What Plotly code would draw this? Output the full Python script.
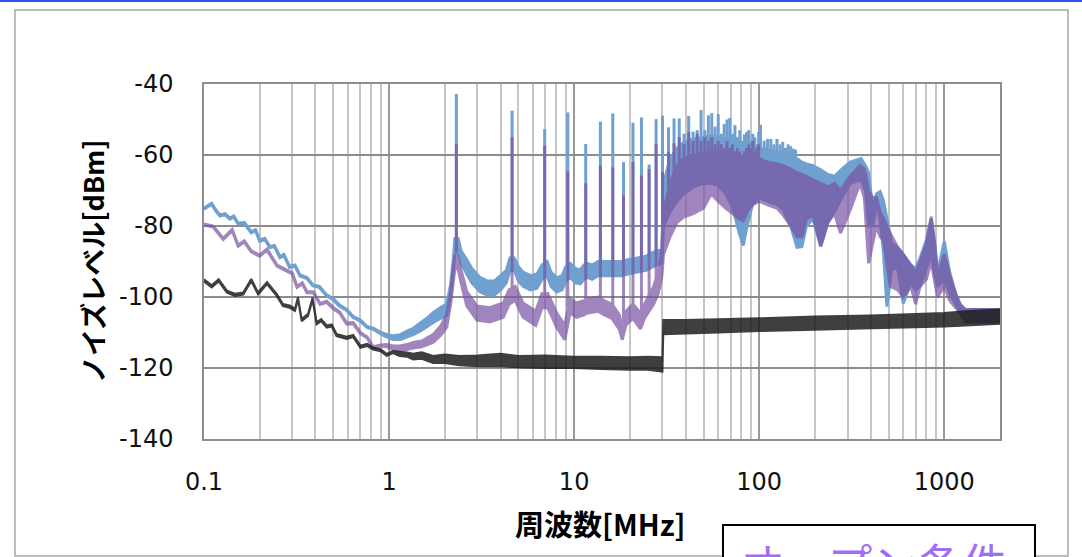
import plotly.graph_objects as go

# ---------------- data ----------------
# Blue trace: band envelope (frequency MHz, lower level dBm, upper level dBm)
blue_f = [0.100, 0.105, 0.110, 0.116, 0.122, 0.130, 0.138, 0.145, 0.153, 0.165, 0.180, 0.190, 0.200,
          0.213, 0.227, 0.240, 0.257, 0.270, 0.290, 0.310, 0.330, 0.360, 0.388, 0.420, 0.460, 0.500,
          0.540, 0.590, 0.640, 0.700, 0.760, 0.820, 0.890, 0.950, 1.050, 1.150, 1.250, 1.350, 1.470,
          1.600, 1.730, 1.900, 2.050, 2.150, 2.220, 2.270, 2.360, 2.450, 2.630, 2.800, 3.100, 3.400,
          3.700, 4.000, 4.300, 4.500, 4.750, 5.000, 5.300, 5.800, 6.300, 6.700, 7.150, 7.500, 8.050,
          8.600, 9.000, 9.500, 10.20, 10.80, 11.30, 11.80, 12.50, 13.50, 14.50, 15.50, 17.00, 18.00,
          19.50, 22.00, 24.50, 26.50, 28.00, 29.80, 30.40, 33.0, 36.0, 39.0, 44.0, 50.0, 55.0, 60.0,
          66.0, 72.0, 78.0, 82.0, 86.0, 92.0, 100.0, 110.0, 125.0, 135.0, 148.0, 160.0, 170.0, 180.0,
          195.0, 215.0, 235.0, 255.0, 280.0, 310.0, 355.0, 375.0, 390.0, 410.0, 430.0, 450.0, 470.0,
          490.0, 520.0, 560.0, 600.0, 660.0, 700.0, 740.0, 800.0, 850.0, 890.0, 920.0, 1000.0, 1070.0,
          1150.0, 1220.0, 1300.0, 2000.0]
blue_lo = [-75.3, -74.5, -74.0, -75.8, -77.2, -76.8, -78.1, -77.5, -79.5, -79.3, -81.9, -81.3, -84.3,
           -83.8, -86.1, -85.8, -88.9, -88.3, -91.7, -91.3, -94.1, -94.8, -96.9, -97.3, -99.7, -100.8,
           -102.6, -103.8, -105.8, -106.8, -108.6, -109.1, -110.2, -111.0, -112.0, -112.0, -111.2, -110.6, -109.6,
           -108.4, -107.2, -106.0, -105.2, -100.0, -93.0, -87.0, -87.0, -90.5, -93.5, -96.0, -98.5, -99.5,
           -99.5, -98.0, -96.0, -92.5, -92.5, -95.5, -97.0, -98.0, -97.5, -95.0, -94.0, -97.0, -98.6,
           -98.0, -95.5, -94.5, -96.0, -96.3, -95.0, -94.5, -95.0, -94.0, -94.0, -94.0, -94.0, -94.0,
           -93.5, -93.0, -92.5, -91.5, -91.0, -90.5, -80.0, -76.0, -73.0, -71.0, -69.0, -68.0, -68.0, -68.5,
           -71.0, -75.0, -82.0, -85.5, -80.0, -74.0, -72.0, -73.0, -74.0, -75.5, -80.0, -86.0, -85.8, -80.0,
           -78.0, -85.8, -79.0, -76.0, -72.0, -68.0, -67.0, -70.0, -80.0, -80.0, -74.0, -78.0, -88.0,
           -102.7, -92.0, -92.0, -101.8, -96.0, -98.0, -97.0, -92.0, -88.0, -94.0, -97.0, -95.0, -99.0,
           -102.0, -104.5, -107.0, -107.0]
blue_hi = [-75.0, -74.2, -73.6, -75.5, -76.9, -76.5, -77.8, -77.2, -79.2, -79.0, -81.6, -81.0, -84.0,
           -83.5, -85.8, -85.5, -88.6, -88.0, -91.4, -91.0, -93.8, -94.5, -96.6, -97.0, -99.4, -100.5,
           -102.3, -103.5, -105.5, -106.5, -108.3, -108.8, -109.8, -110.4, -111.0, -110.6, -109.6, -108.8, -107.4,
           -106.0, -104.4, -103.0, -102.0, -96.5, -89.5, -83.5, -83.5, -87.0, -89.5, -92.0, -94.5, -95.5,
           -95.5, -94.0, -92.5, -89.0, -89.0, -91.5, -93.0, -94.0, -93.5, -91.0, -90.0, -93.0, -94.6,
           -94.0, -91.5, -90.5, -92.0, -92.3, -91.0, -90.5, -91.0, -90.0, -90.0, -90.0, -90.0, -90.0,
           -89.5, -89.0, -88.5, -87.5, -87.0, -86.5, -68.0, -61.0, -58.0, -56.5, -55.5, -55.0, -54.5, -55.0,
           -55.5, -56.5, -58.0, -59.0, -58.5, -58.0, -58.0, -58.5, -59.0, -59.5, -60.5, -61.0, -62.0, -62.5,
           -63.0, -64.2, -65.5, -66.0, -64.0, -62.0, -61.0, -63.0, -65.0, -75.0, -71.0, -70.3, -73.0,
           -78.0, -85.0, -86.0, -88.0, -91.0, -92.0, -89.0, -84.0, -78.0, -85.0, -93.0, -84.4, -93.0,
           -99.0, -102.5, -103.5, -103.5]

# Blue harmonic spikes (frequency MHz, peak dBm, foot dBm)
blue_spike_f = [2.31, 4.62, 6.93, 9.24, 11.55, 13.86, 16.17, 18.48, 20.79, 23.1, 25.41, 27.72, 30.03,
                32.34, 34.65, 36.96, 39.27, 41.58, 43.89, 46.2, 48.51, 50.82, 53.13, 55.44, 57.75, 60.06,
                62.37, 64.68, 66.99, 69.3, 71.61, 73.92, 76.23, 78.54, 80.85, 83.16, 85.47, 87.78, 90.09,
                92.4, 94.71, 97.02, 99.33, 101.6, 106.3, 110.9, 115.5, 120.1, 124.7, 129.4, 134.0, 138.6,
                143.2, 147.8, 152.5, 157.1]
blue_spike_top = [-42.8, -47.5, -52.7, -48.0, -56.9, -50.6, -48.3, -62.0, -50.9, -49.4, -62.7, -49.9, -48.9,
                  -52.2, -49.7, -49.7, -54.0, -49.0, -53.4, -53.0, -47.3, -53.0, -48.8, -48.2, -52.0, -48.5,
                  -54.0, -51.3, -50.0, -49.6, -54.0, -51.6, -55.0, -53.0, -56.0, -54.2, -53.5, -53.0, -56.0,
                  -54.0, -55.0, -57.0, -53.5, -51.5, -56.0, -55.5, -55.5, -57.0, -55.5, -57.0, -56.3, -58.0,
                  -57.0, -57.5, -58.2, -58.5]
blue_spike_foot = [-86, -91, -93, -93, -93, -92, -92, -92, -91, -91, -90, -89, -88,
                   -65, -65, -65, -65, -65, -65, -65, -65, -65, -65, -65, -65, -65,
                   -65, -65, -65, -65, -65, -65, -65, -65, -65, -65, -65, -65, -65,
                   -65, -65, -65, -65, -65, -65, -65, -65, -65, -65, -65, -65, -65,
                   -65, -65, -65, -65]

# Purple trace: band envelope
purple_f = [0.100, 0.112, 0.127, 0.142, 0.153, 0.165, 0.180, 0.200, 0.219, 0.248, 0.280, 0.300, 0.318,
            0.340, 0.360, 0.390, 0.424, 0.460, 0.500, 0.540, 0.590, 0.640, 0.700, 0.760, 0.820, 0.900,
            0.970, 1.050, 1.140, 1.250, 1.350, 1.500, 1.730, 1.900, 2.050, 2.150, 2.220, 2.270, 2.360,
            2.450, 2.630, 2.980, 3.500, 4.140, 4.450, 4.800, 5.300, 6.200, 6.700, 7.200, 8.050, 8.900,
            9.500, 10.30, 11.30, 11.80, 13.50, 14.50, 16.00, 17.50, 18.20, 19.00, 20.80, 22.80, 24.00,
            26.90, 28.50, 29.80, 30.40, 33.0, 36.0, 39.0, 44.0, 50.0, 55.0, 60.0, 66.0, 72.0, 78.0, 82.0,
            86.0, 92.0, 100.0, 110.0, 125.0, 135.0, 148.0, 160.0, 170.0, 180.0, 195.0, 215.0, 235.0, 255.0,
            275.0, 310.0, 350.0, 370.0, 390.0, 410.0, 430.0, 450.0, 470.0, 510.0, 560.0, 600.0, 660.0,
            700.0, 740.0, 800.0, 850.0, 890.0, 920.0, 1000.0, 1070.0, 1150.0, 1220.0, 1300.0, 2000.0]
purple_lo = [-79.7, -80.3, -83.8, -81.3, -85.7, -84.5, -87.3, -88.5, -86.8, -91.3, -92.7, -93.5, -97.3,
             -96.3, -98.8, -98.8, -102.1, -101.5, -103.3, -104.5, -107.6, -107.5, -110.3, -111.5, -114.3, -113.8,
             -114.0, -114.8, -115.0, -114.8, -114.4, -114.0, -112.8, -110.8, -108.5, -102.0, -96.0, -92.0, -92.0,
             -96.0, -102.5, -106.5, -107.0, -105.7, -102.0, -101.0, -105.7, -108.0, -103.0, -103.0, -108.5, -112.0,
             -104.5, -105.7, -105.0, -104.5, -104.0, -105.0, -106.0, -109.0, -112.0, -108.0, -106.0, -109.0, -106.0,
             -102.0, -99.0, -94.0, -88.0, -83.0, -79.0, -77.5, -76.5, -75.0, -71.0, -73.0, -75.0, -76.5, -78.0, -78.5,
             -76.0, -74.0, -73.0, -74.0, -75.0, -77.0, -80.0, -83.0, -83.0, -78.0, -77.0, -85.5, -79.0, -76.5,
             -82.0, -75.5, -68.0, -72.0, -90.5, -85.0, -80.0, -83.0, -84.0, -97.0, -98.0, -100.0, -97.0,
             -102.0, -97.0, -95.0, -90.0, -96.0, -100.0, -97.0, -101.0, -103.0, -104.5, -107.0, -107.0]
purple_hi = [-79.4, -80.0, -83.5, -81.0, -85.4, -84.2, -87.0, -88.2, -86.5, -91.0, -92.4, -93.2, -97.0,
             -96.0, -98.5, -98.5, -101.8, -101.2, -103.0, -104.2, -107.3, -107.2, -110.0, -111.2, -114.0, -113.5,
             -113.4, -113.8, -113.8, -113.4, -112.8, -112.4, -110.6, -108.2, -105.0, -98.5, -92.5, -88.5, -88.5,
             -92.5, -98.5, -102.5, -103.0, -101.7, -98.0, -97.0, -101.7, -104.0, -99.0, -99.0, -104.5, -108.0,
             -100.5, -101.7, -101.0, -100.5, -100.0, -101.0, -102.0, -105.0, -108.0, -104.0, -102.0, -104.5, -102.0,
             -97.0, -93.0, -86.0, -76.0, -68.0, -63.0, -61.0, -60.0, -59.5, -59.0, -59.5, -60.0, -60.5, -61.0, -62.0,
             -62.0, -61.5, -61.0, -62.0, -62.5, -63.0, -64.0, -65.0, -65.5, -66.0, -67.0, -68.0, -69.0, -68.0,
             -70.0, -66.0, -63.0, -64.0, -70.0, -72.0, -72.0, -76.0, -78.0, -82.0, -86.0, -88.0, -91.0,
             -93.0, -90.0, -85.0, -77.4, -86.0, -94.0, -88.0, -94.0, -99.0, -102.0, -103.5, -103.5]

# Purple harmonic spikes
purple_spike_f = [2.31, 4.62, 6.93, 9.24, 11.55, 13.86, 16.17, 18.48, 20.79, 23.1, 25.41, 27.72, 30.03,
                  32.34, 34.65, 36.96, 39.27, 41.58, 43.89, 46.2, 48.51, 50.82, 53.13, 55.44, 57.75, 60.06,
                  62.37, 64.68, 66.99, 69.3, 71.61, 73.92, 76.23, 78.54, 80.85, 83.16, 85.47, 87.78, 90.09,
                  92.4, 94.71, 97.02, 99.33]
purple_spike_top = [-57.0, -55.0, -57.4, -64.6, -68.0, -63.0, -63.5, -71.4, -62.0, -65.8, -64.0, -57.0, -64.8,
                    -59.2, -56.7, -55.0, -57.0, -53.6, -56.0, -54.0, -56.0, -55.0, -56.0, -55.0, -57.0, -56.0,
                    -57.0, -58.0, -56.0, -58.0, -57.0, -59.0, -58.0, -59.0, -60.0, -59.0, -58.0, -57.0, -58.0,
                    -56.0, -59.0, -58.0, -57.0]
purple_spike_foot = [-90, -99, -101, -103, -103, -102, -104, -106, -104, -104, -101, -96, -90,
                     -70, -70, -70, -70, -70, -70, -70, -70, -70, -70, -70, -70, -70,
                     -70, -70, -70, -70, -70, -70, -70, -70, -70, -70, -70, -70, -70,
                     -70, -70, -70, -70]

# Black trace: band envelope
black_f = [0.100, 0.110, 0.120, 0.133, 0.147, 0.163, 0.180, 0.196, 0.219, 0.247, 0.267, 0.290, 0.310,
           0.322, 0.337, 0.365, 0.386, 0.406, 0.430, 0.460, 0.490, 0.520, 0.590, 0.640, 0.700, 0.760,
           0.820, 0.900, 0.970, 1.050, 1.140, 1.250, 1.350, 1.500, 1.730, 2.000, 2.400, 3.000, 4.000,
           5.000, 7.000, 10.00, 14.00, 20.00, 25.00, 30.00, 30.30, 40.0, 60.0, 100.0, 200.0, 400.0,
           700.0, 1000.0, 1300.0, 2000.0]
black_lo = [-95.6, -97.3, -95.6, -98.8, -99.7, -99.3, -95.5, -99.3, -96.4, -99.7, -102.6, -103.0, -103.9,
            -100.7, -106.8, -105.3, -100.8, -107.7, -106.8, -108.6, -108.3, -111.0, -111.8, -111.3, -114.3, -113.8,
            -114.8, -115.3, -116.6, -115.8, -116.6, -116.8, -117.6, -117.4, -118.6, -118.6, -119.2, -119.5, -119.5,
            -119.8, -120.0, -120.0, -120.3, -120.5, -120.5, -121.0, -110.5, -110.3, -110.0, -109.6, -109.2, -108.8,
            -108.5, -108.3, -108.0, -107.5]
black_hi = [-95.0, -96.7, -95.0, -98.2, -99.1, -98.7, -94.9, -98.7, -95.8, -99.1, -102.0, -102.4, -103.3,
            -100.1, -106.2, -104.7, -100.2, -107.1, -106.2, -108.0, -107.7, -110.4, -111.2, -110.7, -113.7, -113.2,
            -114.2, -114.7, -116.0, -115.2, -115.4, -115.6, -116.0, -115.6, -116.6, -116.2, -116.6, -116.5, -116.0,
            -116.6, -116.5, -116.8, -116.8, -117.0, -116.8, -117.0, -106.5, -106.5, -106.3, -106.0, -105.5, -105.2,
            -104.8, -104.5, -104.0, -103.5]

x_tickvals = [0.1, 1, 10, 100, 1000]
x_ticktext = ["0.1", "1", "10", "100", "1000"]
y_tickvals = [-140, -120, -100, -80, -60, -40]
y_ticktext = ["-140", "-120", "-100", "-80", "-60", "-40"]

x_title = "周波数[MHz]"
y_title = "ノイズレベル[dBm]"
box_text = "オープン条件"

# ---------------- figure ----------------
W, H = 1082, 557
L, R, T, B = 204, 82, 84, 118
PW, PH = W - L - R, H - T - B


def px(xp):
    return (xp - L) / PW


def py(yp):
    return (H - B - yp) / PH


def band(f, lo, hi, sf, stop, sfoot, color, opacity, width, name):
    xs = list(f) + list(f)[::-1]
    ys = list(hi) + list(lo)[::-1]
    for s, t, b in zip(sf, stop, sfoot):
        xs += [None, s, s]
        ys += [None, b, t]
    return go.Scatter(x=xs, y=ys, mode="lines", fill="toself", fillcolor=color,
                      line=dict(color=color, width=width, simplify=False), opacity=opacity,
                      hoverinfo="skip", showlegend=False, name=name)


fig = go.Figure()
fig.add_trace(band(blue_f, blue_lo, blue_hi, blue_spike_f, blue_spike_top, blue_spike_foot,
                   "#6fa0d0", 1.0, 3.0, "blue"))
fig.add_trace(band(purple_f, purple_lo, purple_hi, purple_spike_f, purple_spike_top, purple_spike_foot,
                   "#7a52a3", 0.7, 3.0, "purple"))
fig.add_trace(band(black_f, black_lo, black_hi, [], [], [], "#1e1e1e", 0.85, 2.0, "black"))

tick_font = dict(family="DejaVu Sans, Verdana, sans-serif", size=24, color="#111111")

fig.update_layout(
    width=W, height=H,
    margin=dict(l=L, r=R, t=T, b=B, autoexpand=False),
    paper_bgcolor="white", plot_bgcolor="white",
    showlegend=False,
    xaxis=dict(type="log", range=[-1, 3.30103], tickvals=x_tickvals, ticktext=x_ticktext,
               showgrid=True, gridcolor="#9a9a9a", gridwidth=1.5,
               minor=dict(showgrid=True, gridcolor="#c6c6c6", gridwidth=1.5, dtick="D1", ticks=""),
               showline=True, linecolor="#8c8c8c", linewidth=1.5, mirror=True,
               ticks="", ticklabelstandoff=20, tickfont=tick_font, zeroline=False),
    yaxis=dict(range=[-140, -40], tickvals=y_tickvals, ticktext=y_ticktext,
               showgrid=True, gridcolor="#8c8c8c", gridwidth=1.5,
               showline=True, linecolor="#8c8c8c", linewidth=1.5, mirror=True,
               ticks="", ticklabelstandoff=24, tickfont=tick_font, zeroline=False),
)

cjk = "Noto Sans CJK JP, Noto Sans CJK SC, sans-serif"
fig.add_annotation(x=px(92), y=py(262), xref="paper", yref="paper", text="<b>" + y_title + "</b>",
                   textangle=-90, showarrow=False, xanchor="center", yanchor="middle",
                   font=dict(family=cjk, size=27, color="#000000"))
fig.add_annotation(x=px(600), y=py(523), xref="paper", yref="paper", text="<b>" + x_title + "</b>",
                   showarrow=False, xanchor="center", yanchor="middle",
                   font=dict(family=cjk, size=29, color="#000000"))
fig.add_annotation(x=px(738), y=py(528), xref="paper", yref="paper", text=box_text,
                   showarrow=False, xanchor="left", yanchor="top",
                   font=dict(family=cjk, size=45, color="#9f6ef5"))

# outer chart frame, top selection line, and label box
fig.add_shape(type="rect", xref="paper", yref="paper", x0=px(15), x1=px(1068), y0=py(556), y1=py(10),
              line=dict(color="#a6a6a6", width=1.5), layer="below")
fig.add_shape(type="line", xref="paper", yref="paper", x0=px(-5), x1=px(1090), y0=py(0.8), y1=py(0.8),
              line=dict(color="#3050f0", width=2.5))
fig.add_shape(type="rect", xref="paper", yref="paper", x0=px(723), x1=px(1035), y0=py(580), y1=py(525),
              line=dict(color="#000000", width=2), fillcolor="white", layer="above")

fig.write_html("out.html", config={"displayModeBar": False},
               post_script="document.body.style.margin='0';document.body.style.overflow='hidden';")
